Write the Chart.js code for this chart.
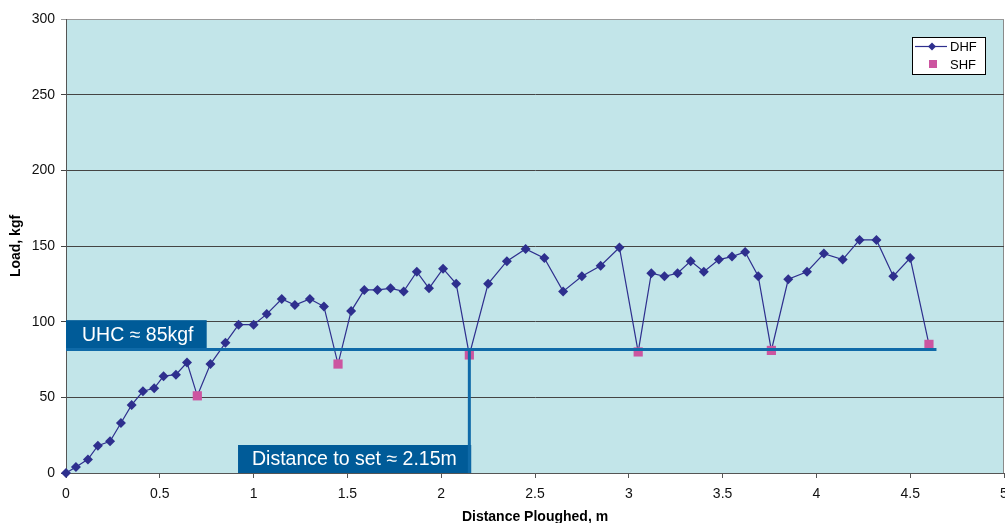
<!DOCTYPE html>
<html>
<head>
<meta charset="utf-8">
<script src="https://cdn.jsdelivr.net/npm/chart.js@4/dist/chart.umd.min.js"></script>
<style>
  html, body { margin: 0; padding: 0; background: #fff; }
  #wrap { width: 1005px; height: 523px; position: relative; }
</style>
</head>
<body>
<div id="wrap"><canvas id="plough"></canvas></div>
<script>
// ---------- Data ---------- //
// DHF series (line passes through the SHF points too)
const dhfX = [0, 0.053, 0.117, 0.17, 0.235, 0.293, 0.35, 0.41, 0.47, 0.52, 0.586, 0.645, 0.70,
  0.77, 0.85, 0.92, 1.0, 1.07, 1.15, 1.22, 1.30, 1.375, 1.45,
  1.52, 1.59, 1.66, 1.73, 1.80, 1.87, 1.935, 2.01, 2.08, 2.15,
  2.25, 2.35, 2.45, 2.55, 2.65, 2.75, 2.85, 2.95, 3.05,
  3.12, 3.19, 3.26, 3.33, 3.40, 3.48, 3.55, 3.62, 3.69, 3.76,
  3.85, 3.95, 4.04, 4.14, 4.23, 4.32, 4.41, 4.50, 4.60];
const dhfY = [0, 4, 9, 18, 21, 33, 45, 54, 56, 64, 65, 73, 51,
  72, 86, 98, 98, 105, 115, 111, 115, 110, 72,
  107, 121, 121, 122, 120, 133, 122, 135, 125, 78,
  125, 140, 148, 142, 120, 130, 137, 149, 80,
  132, 130, 132, 140, 133, 141, 143, 146, 130, 81,
  128, 133, 145, 141, 154, 154, 130, 142, 85];
// SHF points
const shfX = [0.70, 1.45, 2.15, 3.05, 3.76, 4.60];
const shfY = [51, 72, 78, 80, 81, 85];

const xTicks = [0, 0.5, 1, 1.5, 2, 2.5, 3, 3.5, 4, 4.5, 5];
const yTicks = [0, 50, 100, 150, 200, 250, 300];

// annotation values
const uhcLoad = 81.6;
const uhcLineEnd = 4.64;
const uhcBox = { x0: 0, x1: 0.75, y0: 81.6, y1: 101 };
const uhcText = 'UHC \u2248 85kgf';
const setDist = 2.15;
const setBox = { x0: 0.917, x1: 2.16, y0: 0, y1: 18.5 };
const setText = 'Distance to set \u2248 2.15m';

const FONT = '"Liberation Sans", Arial, sans-serif';
const NAVY = '#2e2f8e';
const PINK = '#cc55a0';
const BOX = '#005b98';
const REF = '#0f6aa8';

// ---------- Plugins ---------- //
const plotBg = {
  id: 'plotBg',
  beforeDraw(chart) {
    const { ctx, chartArea: a } = chart;
    ctx.save();
    ctx.fillStyle = '#c2e5e9';
    ctx.fillRect(a.left, a.top, a.right - a.left, a.bottom - a.top);
    ctx.strokeStyle = '#8a8a8a';
    ctx.lineWidth = 1;
    ctx.beginPath();
    ctx.moveTo(a.right - 0.5, a.top);
    ctx.lineTo(a.right - 0.5, a.bottom);
    ctx.stroke();
    ctx.restore();
  }
};

const annotations = {
  id: 'annotations',
  afterDatasetsDraw(chart) {
    const { ctx } = chart;
    const xs = chart.scales.x, ys = chart.scales.y;
    const px = v => xs.getPixelForValue(v);
    const py = v => ys.getPixelForValue(v);
    ctx.save();
    // boxes
    ctx.fillStyle = BOX;
    ctx.fillRect(px(uhcBox.x0), py(uhcBox.y1), px(uhcBox.x1) - px(uhcBox.x0), py(uhcBox.y0) - py(uhcBox.y1));
    ctx.fillRect(px(setBox.x0), py(setBox.y1), px(setBox.x1) - px(setBox.x0), py(setBox.y0) - py(setBox.y1));
    // reference lines
    ctx.strokeStyle = REF;
    ctx.lineWidth = 3;
    ctx.beginPath();
    ctx.moveTo(px(0), py(uhcLoad));
    ctx.lineTo(px(uhcLineEnd), py(uhcLoad));
    ctx.moveTo(px(setDist), py(uhcLoad));
    ctx.lineTo(px(setDist), py(0));
    ctx.stroke();
    // labels
    ctx.fillStyle = '#fff';
    ctx.font = '19.5px ' + FONT;
    ctx.textBaseline = 'middle';
    ctx.textAlign = 'left';
    ctx.fillText(uhcText, px(uhcBox.x0) + 16, (py(uhcBox.y0) + py(uhcBox.y1)) / 2 + 1);
    ctx.fillText(setText, px(setBox.x0) + 14, (py(setBox.y0) + py(setBox.y1)) / 2 + 1);
    ctx.restore();
  }
};

const customLegend = {
  id: 'customLegend',
  afterDraw(chart) {
    const { ctx } = chart;
    ctx.save();
    ctx.fillStyle = '#fff';
    ctx.fillRect(912.5, 37.5, 73, 37);
    ctx.strokeStyle = '#000';
    ctx.lineWidth = 1;
    ctx.strokeRect(912.5, 37.5, 73, 37);
    // DHF
    ctx.strokeStyle = NAVY;
    ctx.lineWidth = 1.2;
    ctx.beginPath();
    ctx.moveTo(915, 46.5);
    ctx.lineTo(947, 46.5);
    ctx.stroke();
    ctx.fillStyle = NAVY;
    ctx.beginPath();
    ctx.moveTo(932, 42.5); ctx.lineTo(936, 46.5); ctx.lineTo(932, 50.5); ctx.lineTo(928, 46.5);
    ctx.closePath();
    ctx.fill();
    // SHF
    ctx.fillStyle = PINK;
    ctx.fillRect(929, 60, 8, 8);
    ctx.fillStyle = '#000';
    ctx.font = '13px ' + FONT;
    ctx.textBaseline = 'middle';
    ctx.fillText('DHF', 950, 47);
    ctx.fillText('SHF', 950, 65);
    ctx.restore();
  }
};

// ---------- Chart ---------- //
const dhfPoints = dhfX.map((x, i) => ({ x, y: dhfY[i] }));
const shfPoints = shfX.map((x, i) => ({ x, y: shfY[i] }));

new Chart(document.getElementById('plough'), {
  type: 'scatter',
  data: {
    datasets: [
      {
        label: 'SHF',
        data: shfPoints,
        pointStyle: 'rect',
        pointRadius: 6.5,
        backgroundColor: PINK,
        borderColor: PINK,
        borderWidth: 0,
        showLine: false,
        order: 0
      },
      {
        label: 'DHF',
        data: dhfPoints,
        showLine: true,
        clip: false,
        borderColor: NAVY,
        borderWidth: 1.2,
        pointStyle: 'rectRot',
        pointRadius: ctx => shfX.includes(dhfX[ctx.dataIndex]) ? 0 : 5,
        pointBackgroundColor: NAVY,
        pointBorderColor: NAVY,
        pointBorderWidth: 0,
        tension: 0,
        order: 1
      }
    ]
  },
  options: {
    responsive: true,
    maintainAspectRatio: false,
    animation: false,
    events: [],
    layout: { autoPadding: false, padding: { left: 0, top: 19, right: 1, bottom: 0 } },
    plugins: {
      legend: { display: false },
      tooltip: { enabled: false }
    },
    scales: {
      x: {
        type: 'linear',
        min: 0,
        max: 5,
        afterBuildTicks: s => { s.ticks = xTicks.map(v => ({ value: v })); },
        afterFit: s => { s.height = 50; s.paddingLeft = 0; s.paddingRight = 0; },
        grid: { drawOnChartArea: false, tickLength: 5, color: '#555' },
        border: { color: '#555', width: 1 },
        ticks: {
          color: '#111',
          font: { family: FONT, size: 14 },
          padding: 8,
          maxRotation: 0,
          callback: v => String(v)
        },
        title: {
          display: true,
          text: 'Distance Ploughed, m',
          color: '#000',
          font: { family: FONT, size: 14, weight: 'bold' },
          padding: { top: 0, bottom: -2.5 }
        }
      },
      y: {
        type: 'linear',
        min: 0,
        max: 300,
        afterBuildTicks: s => { s.ticks = yTicks.map(v => ({ value: v })); },
        afterFit: s => { s.width = 66; },
        grid: {
          tickLength: 5,
          color: c => c.tick && c.tick.value === 300 ? '#999' : '#444'
        },
        border: { color: '#555', width: 1 },
        ticks: { color: '#111', font: { family: FONT, size: 14 }, padding: 6 },
        title: {
          display: true,
          text: 'Load, kgf',
          color: '#000',
          font: { family: FONT, size: 14, weight: 'bold' },
          padding: { top: 7.5, bottom: 0 }
        }
      }
    }
  },
  plugins: [plotBg, annotations, customLegend]
});
</script>
</body>
</html>
